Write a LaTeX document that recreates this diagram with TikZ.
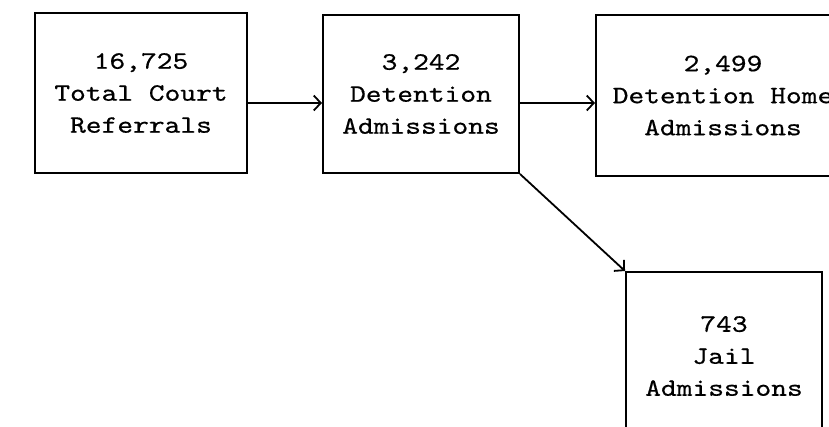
\documentclass[tikz,border=0pt]{standalone}
\usepackage{fontspec}
\newfontfamily\twfont{lmmono10-regular.otf}[FakeStretch=1.2,FakeBold=0.5]
\usetikzlibrary{arrows.meta}
\begin{document}
\begin{tikzpicture}[x=1pt,y=-1pt,
  box/.style={draw=black, line width=2pt, rectangle, align=center, inner sep=0pt,
    font=\twfont\fontsize{25}{32}\selectfont},
  conn/.style={draw=black, line width=1.8pt, -{Straight Barb[length=7pt,width=15pt,line width=1.8pt]}}]
\useasboundingbox[fill=white] (0,0) rectangle (829,426);
\begin{scope}
\clip (0,0) rectangle (829,426);
\node[box, minimum width=212pt, minimum height=160pt] (b1) at (141,93) {16,725\\Total Court\\Referrals};
\node[box, minimum width=196pt, minimum height=158pt] (b2) at (421,94) {3,242\\Detention\\Admissions};
\node[box, minimum width=254pt, minimum height=161pt] (b3) at (723,95.5) {2,499\\Detention Home\\Admissions};
\node[box, minimum width=196pt, minimum height=168pt] (b4) at (724,356) {743\\Jail\\Admissions};
\coordinate (ya) at (0,103);
\draw[conn] (b1.east |- ya) -- (b2.west |- ya);
\draw[conn] (b2.east |- ya) -- (b3.west |- ya);
\draw[conn] (b2.south east) -- (b4.north west);
\end{scope}
\end{tikzpicture}
\end{document}
